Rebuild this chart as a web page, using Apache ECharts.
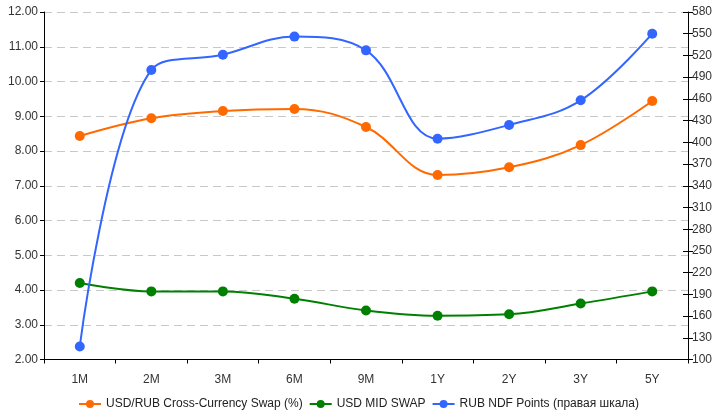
<!DOCTYPE html>
<html><head><meta charset="utf-8">
<script src="https://cdn.jsdelivr.net/npm/echarts@6/dist/echarts.min.js"></script>
<style>html,body{margin:0;padding:0;background:#fff}#c{width:717px;height:418px}</style>
</head><body><div id="c"></div>
<script>
const categories = ['1M','2M','3M','6M','9M','1Y','2Y','3Y','5Y'];
const ccsValues = [8.43, 8.94, 9.15, 9.21, 8.69, 7.31, 7.53, 8.17, 9.44];
const midSwapValues = [4.2, 3.96, 3.96, 3.75, 3.41, 3.26, 3.3, 3.61, 3.96];
const ndfValues = [118, 500, 521, 546, 527, 405, 424, 458, 550];
const seriesNames = ['USD/RUB Cross-Currency Swap (%)', 'USD MID SWAP', 'RUB NDF Points (правая шкала)'];
const leftTicks = {min: 2, max: 12, interval: 1};
const rightTicks = {min: 100, max: 580, interval: 30};

const font = 'Liberation Sans, Arial, sans-serif';
const chart = echarts.init(document.getElementById('c'), null, {renderer: 'canvas'});
const lineSeries = (name, data, color, yIdx) => ({
  name, type: 'line', data, yAxisIndex: yIdx, smooth: 0.38,
  symbol: 'circle', symbolSize: 10,
  lineStyle: {color, width: 2}, itemStyle: {color}
});
chart.setOption({
  animation: false,
  textStyle: {fontFamily: font},
  grid: {left: 44, right: 29, top: 12, bottom: 58.5},
  legend: {
    bottom: 3, left: 'center', itemWidth: 22, itemHeight: 10, itemGap: 6,
    textStyle: {fontFamily: font, fontSize: 12, color: '#222'},
    data: seriesNames
  },
  xAxis: {
    type: 'category', data: categories, boundaryGap: true,
    axisLine: {lineStyle: {color: '#000', width: 1}},
    axisTick: {show: true, length: 4, lineStyle: {color: '#000'}},
    axisLabel: {fontFamily: font, fontSize: 12, color: '#333', margin: 14}
  },
  yAxis: [
    {
      type: 'value', position: 'left', min: leftTicks.min, max: leftTicks.max, interval: leftTicks.interval,
      axisLine: {show: true, lineStyle: {color: '#000'}},
      axisTick: {show: true, length: 4, lineStyle: {color: '#000'}},
      axisLabel: {fontFamily: font, fontSize: 12, color: '#333', margin: 6, formatter: v => v.toFixed(2)},
      splitLine: {show: true, lineStyle: {color: '#c8c8c8', type: [8, 5], width: 1}}
    },
    {
      type: 'value', position: 'right', min: rightTicks.min, max: rightTicks.max, interval: rightTicks.interval,
      axisLine: {show: true, lineStyle: {color: '#000'}},
      axisTick: {show: true, length: 5, lineStyle: {color: '#000'}},
      axisLabel: {fontFamily: font, fontSize: 12, color: '#333', margin: 4},
      splitLine: {show: false}
    },
    {
      type: 'value', position: 'right', min: rightTicks.min, max: rightTicks.max, interval: rightTicks.interval,
      axisLine: {show: false},
      axisTick: {show: true, inside: true, length: 5, lineStyle: {color: '#000'}},
      axisLabel: {show: false},
      splitLine: {show: false}
    }
  ],
  series: [
    lineSeries(seriesNames[0], ccsValues, '#ff6a00', 0),
    lineSeries(seriesNames[1], midSwapValues, '#008000', 0),
    lineSeries(seriesNames[2], ndfValues, '#3366ff', 1)
  ]
});
</script></body></html>
